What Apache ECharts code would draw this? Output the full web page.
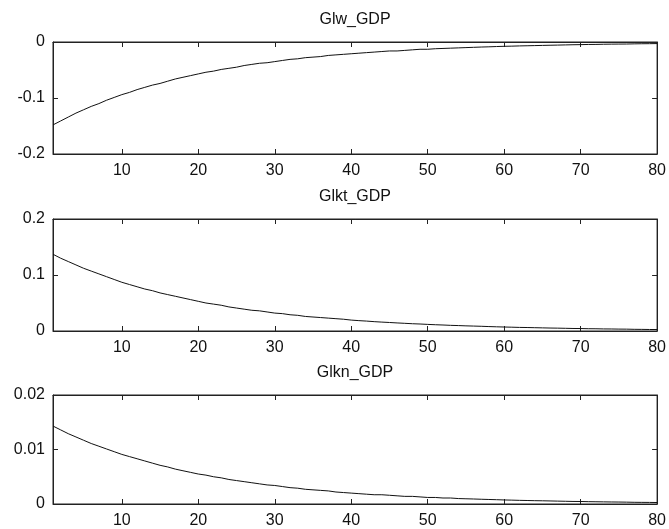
<!DOCTYPE html>
<html><head><meta charset="utf-8">
<script src="https://cdn.jsdelivr.net/npm/echarts@6/dist/echarts.min.js"></script>
<style>html,body{margin:0;padding:0;background:#fff}#c{width:669px;height:529px}</style>
</head><body><div id="c"></div>
<script>
const titles = ['Glw_GDP', 'Glkt_GDP', 'Glkn_GDP'];
const xTicks = [10, 20, 30, 40, 50, 60, 70, 80];
const yRanges = [[-0.2, 0, 0.1], [0, 0.2, 0.1], [0, 0.02, 0.01]];
const glw = [-0.148,-0.141,-0.134,-0.127,-0.121,-0.115,-0.110,-0.104,-0.099,-0.094,
 -0.090,-0.085,-0.081,-0.077,-0.074,-0.070,-0.066,-0.063,-0.060,-0.057,
 -0.054,-0.052,-0.049,-0.047,-0.045,-0.042,-0.040,-0.038,-0.037,-0.035,
 -0.033,-0.031,-0.030,-0.028,-0.027,-0.026,-0.024,-0.023,-0.022,-0.021,
 -0.020,-0.019,-0.018,-0.017,-0.016,-0.016,-0.015,-0.014,-0.013,-0.013,
 -0.012,-0.0115,-0.011,-0.0105,-0.010,-0.0095,-0.009,-0.0086,-0.0081,-0.0077,
 -0.0074,-0.0070,-0.0067,-0.0064,-0.0061,-0.0058,-0.0055,-0.0052,-0.0049,-0.0047,
 -0.0044,-0.0043,-0.0040,-0.0038,-0.0037,-0.0036,-0.0033,-0.0031,-0.0030,-0.0028];
const glkt = [0.137,0.130,0.124,0.118,0.112,0.107,0.102,0.097,0.092,0.087,
 0.083,0.079,0.075,0.072,0.068,0.065,0.062,0.059,0.056,0.053,
 0.050,0.048,0.046,0.043,0.041,0.039,0.037,0.036,0.034,0.032,
 0.031,0.029,0.028,0.026,0.025,0.024,0.023,0.022,0.021,0.0195,
 0.0185,0.0177,0.0167,0.0159,0.0152,0.0144,0.0137,0.0130,0.0125,0.0118,
 0.0112,0.0107,0.0101,0.0097,0.0092,0.0088,0.0084,0.0079,0.0075,0.0071,
 0.0068,0.0064,0.0062,0.0059,0.0056,0.0053,0.0051,0.0048,0.0045,0.0044,
 0.0041,0.0040,0.0037,0.0036,0.0034,0.0033,0.0030,0.0029,0.0027,0.0026];
const glkn = [0.0143,0.0136,0.0129,0.0123,0.0117,0.0111,0.0106,0.0101,0.0096,0.0091,
 0.0087,0.0083,0.0079,0.0075,0.0071,0.0068,0.0064,0.0061,0.0058,0.0055,
 0.0053,0.0050,0.0048,0.0045,0.0043,0.0041,0.0039,0.0037,0.0035,0.0034,
 0.0032,0.0030,0.0029,0.0027,0.0026,0.0025,0.0024,0.0022,0.0021,0.0020,
 0.0019,0.0018,0.0017,0.0017,0.0016,0.0015,0.0014,0.0014,0.0013,0.0012,
 0.0012,0.0011,0.0011,0.0010,0.00096,0.00092,0.00087,0.00083,0.00079,0.00074,
 0.00071,0.00067,0.00064,0.00061,0.00059,0.00056,0.00053,0.00050,0.00047,0.00046,
 0.00043,0.00041,0.00039,0.00037,0.00036,0.00034,0.00031,0.00030,0.00029,0.00027];
const seriesData = [glw, glkt, glkn];

const chart = echarts.init(document.getElementById('c'), null, {renderer: 'canvas'});
const grids = [{top: 42, height: 112}, {top: 219, height: 112}, {top: 395, height: 113}];
const axisCol = '#222';
const font = 'Liberation Sans, Arial, sans-serif';
const option = {
  animation: false,
  backgroundColor: '#fff',
  title: titles.map((t, i) => ({
    text: t, left: 355, top: grids[i].top - 30, textAlign: 'center', padding: 0,
    textStyle: {fontSize: 16, fontWeight: 'normal', color: '#111', fontFamily: font}
  })),
  grid: grids.map(g => ({left: 53, width: 608, top: g.top, height: g.height,
    show: true, borderColor: axisCol, borderWidth: 1, backgroundColor: '#fff'})),
  xAxis: [],
  yAxis: [],
  series: []
};
for (let i = 0; i < 3; i++) {
  ['bottom', 'top'].forEach((pos, k) => {
    option.xAxis.push({
      type: 'value', gridIndex: i, position: pos, min: 1, max: 80,
      axisLine: {show: true, onZero: false, lineStyle: {color: axisCol, width: 1}},
      axisTick: {show: true, inside: true, length: 5, customValues: xTicks, lineStyle: {color: axisCol}},
      axisLabel: {show: k === 0, customValues: xTicks, color: '#111', fontSize: 16, fontFamily: font, margin: 9},
      splitLine: {show: false}
    });
  });
  ['left', 'right'].forEach((pos, k) => {
    const r = yRanges[i];
    option.yAxis.push({
      type: 'value', gridIndex: i, position: pos, min: r[0], max: r[1], interval: r[2],
      axisLine: {show: true, onZero: false, lineStyle: {color: axisCol, width: 1}},
      axisTick: {show: true, inside: true, length: 5, lineStyle: {color: axisCol}},
      axisLabel: {show: k === 0, color: '#111', fontSize: 16, fontFamily: font, margin: 8},
      splitLine: {show: false}
    });
  });
  option.series.push({
    type: 'line', xAxisIndex: 2 * i, yAxisIndex: 2 * i,
    data: seriesData[i].map((v, j) => [j + 1, v]),
    showSymbol: false, lineStyle: {color: '#111', width: 1}, silent: true
  });
}
chart.setOption(option);
</script></body></html>
